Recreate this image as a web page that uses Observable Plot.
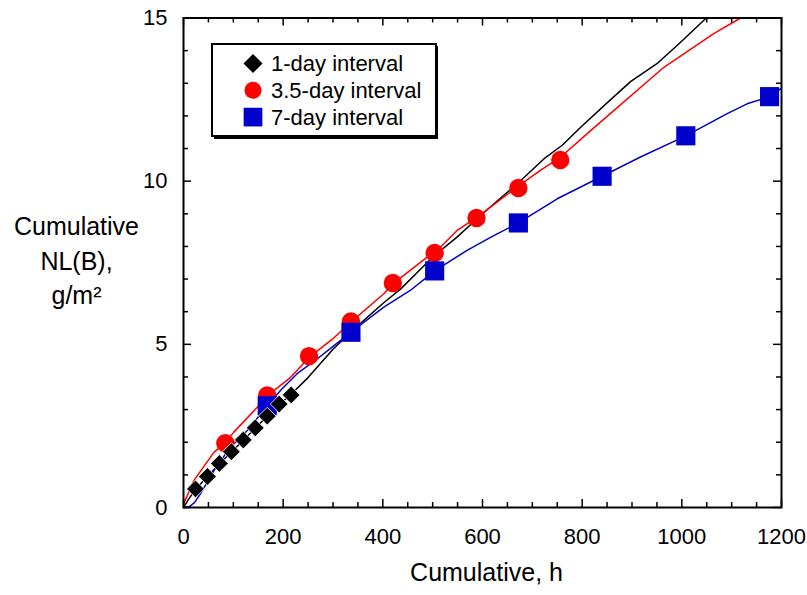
<!DOCTYPE html>
<html>
<head>
<meta charset="utf-8">
<script src="https://cdn.jsdelivr.net/npm/d3@7"></script>
<script src="https://cdn.jsdelivr.net/npm/@observablehq/plot@0.6"></script>
<style>
  html, body { margin: 0; padding: 0; background: #fff; }
  #chart { position: relative; width: 807px; height: 595px; }
  #legend { position: absolute; left: 211px; top: 43px; }
</style>
</head>
<body>
<div id="chart"></div>
<script>
// Sampling times (h) and cumulative NL(B) (g/m²) for each sampling interval
const oneDayH = [24, 48, 72, 96, 120, 144, 168, 192, 216];
const oneDayV = [0.57, 0.95, 1.35, 1.71, 2.07, 2.44, 2.80, 3.17, 3.45];

const threeHalfDayH = [84, 168, 252, 336, 420, 504, 588, 672, 756];
const threeHalfDayV = [1.97, 3.43, 4.64, 5.70, 6.88, 7.80, 8.87, 9.79, 10.65];

const sevenDayH = [168, 336, 504, 672, 840, 1008, 1176];
const sevenDayV = [3.12, 5.37, 7.25, 8.72, 10.15, 11.39, 12.59];

// Continuous cumulative traces
const blackTraceH = [0, 10, 24, 48, 72, 96, 120, 144, 168, 192, 216, 250, 300, 336, 400, 436, 469, 502, 550, 589, 630, 670, 723, 760, 797, 850, 897, 950, 997, 1049];
const blackTraceV = [0, 0.25, 0.55, 0.95, 1.33, 1.70, 2.06, 2.43, 2.80, 3.15, 3.47, 3.98, 4.85, 5.38, 6.25, 6.70, 7.20, 7.70, 8.30, 8.85, 9.40, 9.92, 10.68, 11.10, 11.65, 12.40, 13.05, 13.60, 14.25, 15.0];

const redTraceH = [0, 21, 61, 84, 101, 148, 168, 182, 215, 252, 302, 336, 402, 420, 489, 504, 549, 588, 672, 716, 757, 817, 864, 964, 1064, 1118];
const redTraceV = [0.1, 0.83, 1.69, 2.0, 2.31, 3.07, 3.42, 3.59, 3.99, 4.60, 5.20, 5.68, 6.55, 6.85, 7.67, 7.80, 8.49, 8.88, 9.85, 10.33, 10.74, 11.55, 12.17, 13.49, 14.52, 15.0];

const blueTraceH = [0, 12, 22, 34, 61, 94, 128, 168, 195, 228, 268, 302, 336, 402, 455, 504, 569, 616, 672, 750, 840, 917, 1008, 1091, 1131, 1176, 1198];
const blueTraceV = [0, 0.03, 0.15, 0.42, 1.13, 1.85, 2.36, 3.12, 3.59, 4.10, 4.55, 4.96, 5.37, 6.14, 6.65, 7.25, 7.88, 8.28, 8.72, 9.46, 10.15, 10.74, 11.39, 12.07, 12.37, 12.59, 12.83];

// Axis ticks
const xMajorTicks = [0, 200, 400, 600, 800, 1000, 1200];
const xMinorTicks = [50, 100, 150, 250, 300, 350, 450, 500, 550, 650, 700, 750, 850, 900, 950, 1050, 1100, 1150];
const yMajorTicks = [0, 5, 10, 15];
const yMinorTicks = [1, 2, 3, 4, 6, 7, 8, 9, 11, 12, 13, 14];

const seriesLabels = ["1-day interval", "3.5-day interval", "7-day interval"];
const seriesColors = ["#000000", "#ff0000", "#0000cc"];

const zip = (hs, vs) => hs.map((h, i) => ({h, v: vs[i]}));

const W = 807, H = 595;
const margin = {left: 183, right: 26, top: 17.5, bottom: 88};
const frameW = W - margin.left - margin.right;
const frameH = H - margin.top - margin.bottom;

// Inward tick marks on all four sides of the frame
const tickMarks = (xs, ys, len) => {
  const style = {stroke: "black", strokeWidth: 1.5};
  return [
    Plot.tickX(xs, {x: d => d, insetTop: frameH - len, ...style}),
    Plot.tickX(xs, {x: d => d, insetBottom: frameH - len, ...style}),
    Plot.tickY(ys, {y: d => d, insetRight: frameW - len, ...style}),
    Plot.tickY(ys, {y: d => d, insetLeft: frameW - len, ...style})
  ];
};

const font = "'Liberation Sans', Arial, Helvetica, sans-serif";

const chart = Plot.plot({
  width: W,
  height: H,
  marginLeft: margin.left,
  marginRight: margin.right,
  marginTop: margin.top,
  marginBottom: margin.bottom,
  style: {fontFamily: font, fontSize: "22px", background: "white", color: "black"},
  x: {domain: [0, 1200], ticks: xMajorTicks, tickFormat: d => String(d), tickSize: 0, tickPadding: 21, label: null},
  y: {domain: [0, 15], ticks: yMajorTicks, tickFormat: d => String(d), tickSize: 0, tickPadding: 16, label: null},
  marks: [
    Plot.line(zip(blackTraceH, blackTraceV), {x: "h", y: "v", stroke: seriesColors[0], strokeWidth: 1.5, clip: true}),
    Plot.line(zip(redTraceH, redTraceV), {x: "h", y: "v", stroke: seriesColors[1], strokeWidth: 1.5, clip: true}),
    Plot.line(zip(blueTraceH, blueTraceV), {x: "h", y: "v", stroke: seriesColors[2], strokeWidth: 1.5, clip: true}),
    Plot.dot(zip(threeHalfDayH, threeHalfDayV), {x: "h", y: "v", symbol: "circle", r: 9.2, fill: seriesColors[1]}),
    Plot.dot(zip(sevenDayH, sevenDayV), {x: "h", y: "v", symbol: "square", r: 10.8, fill: seriesColors[2]}),
    Plot.dot(zip(oneDayH, oneDayV), {x: "h", y: "v", symbol: "diamond2", r: 8, fill: seriesColors[0], stroke: "white", strokeWidth: 0.8}),
    ...tickMarks(xMajorTicks, yMajorTicks, 8),
    ...tickMarks(xMinorTicks, yMinorTicks, 5),
    Plot.frame({stroke: "black", strokeWidth: 2}),
    Plot.text(["Cumulative, h"], {text: d => d, frameAnchor: "bottom", dx: 4, dy: 73, fontSize: 25, fontFamily: font}),
    Plot.text(["Cumulative\nNL(B),\ng/m²"], {text: d => d, frameAnchor: "left", dx: -107, dy: -4, textAnchor: "middle", lineHeight: 1.38, fontSize: 25, fontFamily: font})
  ]
});

const container = document.getElementById("chart");
container.appendChild(chart);

// Legend box with a drop shadow on the bottom and right edges
const legend = d3.select(container).append("svg")
  .attr("id", "legend")
  .attr("width", 230)
  .attr("height", 100)
  .style("font-family", font);
legend.append("rect").attr("x", 3).attr("y", 3).attr("width", 224).attr("height", 93).attr("fill", "black");
legend.append("rect").attr("x", 1).attr("y", 1).attr("width", 224).attr("height", 92)
  .attr("fill", "white").attr("stroke", "black").attr("stroke-width", 2);

const symbolPaths = [
  d3.symbol(d3.symbolDiamond2, 230)(),
  d3.symbol(d3.symbolCircle, 227)(),
  d3.symbol(d3.symbolSquare, 350)()
];
seriesLabels.forEach((label, i) => {
  const cy = 20.5 + i * 26.8;
  legend.append("path").attr("d", symbolPaths[i]).attr("transform", `translate(42,${cy})`).attr("fill", seriesColors[i]);
  legend.append("text").attr("x", 60).attr("y", cy + 7.8).attr("font-size", 22).attr("fill", "black").text(label);
});
</script>
</body>
</html>
